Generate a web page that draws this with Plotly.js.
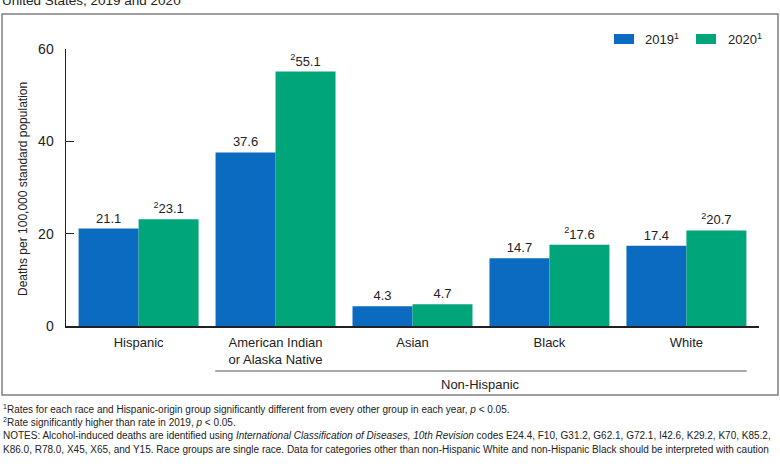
<!DOCTYPE html>
<html>
<head>
<meta charset="utf-8">
<script src="https://cdn.plot.ly/plotly-3.0.1.min.js"></script>
<style>html,body{margin:0;padding:0;background:#fff;}#chart{width:780px;height:470px;}</style>
</head>
<body>
<div id="chart"></div>
<script>
const categories = ["Hispanic", "American Indian<br>or Alaska Native", "Asian", "Black", "White"];
const values2019 = [21.1, 37.6, 4.3, 14.7, 17.4];
const values2020 = [23.1, 55.1, 4.7, 17.6, 20.7];
const sig2020 = [true, true, false, true, true];
const yTicks = [0, 20, 40, 60];
const seriesNames = ["2019", "2020"];
const colors = ["#0A6BC0", "#00A57A"];

const FONT = "Liberation Sans, Arial, sans-serif";

const t2019 = {
  type: "bar", x: categories, y: values2019, name: seriesNames[0],
  marker: {color: colors[0]},
  text: values2019.map(v => v.toFixed(1)),
  textposition: "outside", cliponaxis: false,
  textfont: {family: FONT, size: 13, color: "#222"},
  hoverinfo: "none"
};
const t2020 = {
  type: "bar", x: categories, y: values2020, name: seriesNames[1],
  marker: {color: colors[1]},
  text: values2020.map((v, i) => (sig2020[i] ? "<sup>2</sup>" : "") + v.toFixed(1)),
  textposition: "outside", cliponaxis: false,
  textfont: {family: FONT, size: 13, color: "#222"},
  hoverinfo: "none"
};

// pixel helpers (plot area: left 66, right 759, top 49, bottom 326)
const L = 66, R = 759, T = 49, B = 326;
const px = x => (x - L) / (R - L);
const py = y => (B - y) / (B - T);

const footnotes = [
  "<sup>1</sup>Rates for each race and Hispanic-origin group significantly different from every other group in each year, <i>p</i> < 0.05.",
  "<sup>2</sup>Rate significantly higher than rate in 2019, <i>p</i> < 0.05.",
  "NOTES: Alcohol-induced deaths are identified using <i>International Classification of Diseases, 10th Revision</i> codes E24.4, F10, G31.2, G62.1, G72.1, I42.6, K29.2, K70, K85.2,",
  "K86.0, R78.0, X45, X65, and Y15. Race groups are single race. Data for categories other than non-Hispanic White and non-Hispanic Black should be interpreted with caution"
];
const footY = [409, 422, 436, 449];

const annotations = [
  {xref: "paper", yref: "paper", x: px(0), y: py(10), xanchor: "left", yanchor: "bottom",
   text: "United States, 2019 and 2020", showarrow: false, font: {family: FONT, size: 13.5, color: "#222"}},
  {xref: "paper", yref: "paper", x: px(23), y: py(189), xanchor: "center", yanchor: "middle", textangle: -90,
   text: "Deaths per 100,000 standard population", showarrow: false, font: {family: FONT, size: 12, color: "#222"}},
  {xref: "x", yref: "paper", x: 2.5, y: py(384), xanchor: "center", yanchor: "middle",
   text: "Non-Hispanic", showarrow: false, font: {family: FONT, size: 13, color: "#222"}},
  {xref: "paper", yref: "paper", x: px(643), y: py(39), xanchor: "left", yanchor: "middle",
   text: seriesNames[0] + "<sup>1</sup>", showarrow: false, font: {family: FONT, size: 13, color: "#222"}},
  {xref: "paper", yref: "paper", x: px(726), y: py(39), xanchor: "left", yanchor: "middle",
   text: seriesNames[1] + "<sup>1</sup>", showarrow: false, font: {family: FONT, size: 13, color: "#222"}}
];
footnotes.forEach((t, i) => annotations.push({
  xref: "paper", yref: "paper", x: px(1), y: py(footY[i]), xanchor: "left", yanchor: "middle",
  text: t, showarrow: false, align: "left", font: {family: FONT, size: 10, color: "#222"}
}));

const shapes = [
  {type: "rect", xref: "paper", yref: "paper", x0: px(2), x1: px(778), y0: py(395), y1: py(14),
   line: {color: "#808080", width: 1.5}, fillcolor: "rgba(0,0,0,0)", layer: "below"},
  {type: "line", xref: "x", yref: "paper", x0: 0.56, x1: 4.44, y0: py(371), y1: py(371),
   line: {color: "#555", width: 1.2}},
  {type: "rect", xref: "paper", yref: "paper", x0: px(614), x1: px(634), y0: py(44), y1: py(34),
   line: {width: 0}, fillcolor: colors[0]},
  {type: "rect", xref: "paper", yref: "paper", x0: px(696), x1: px(716), y0: py(44), y1: py(34),
   line: {width: 0}, fillcolor: colors[1]}
];

const layout = {
  width: 780, height: 470,
  margin: {l: L, r: 780 - R, t: T, b: 470 - B, pad: 0},
  paper_bgcolor: "#fff", plot_bgcolor: "#fff",
  barmode: "group", bargap: 0.124, bargroupgap: 0,
  showlegend: false,
  font: {family: FONT, size: 13, color: "#222"},
  xaxis: {
    type: "category", range: [-0.53, 4.53], fixedrange: true,
    showline: true, linecolor: "#222", linewidth: 1.5,
    ticks: "", showgrid: false, zeroline: false,
    tickfont: {family: FONT, size: 13, color: "#222"},
    ticklabelstandoff: 4
  },
  yaxis: {
    range: [0, 60], tickvals: yTicks, ticktext: yTicks.map(String), fixedrange: true,
    showline: true, linecolor: "#222", linewidth: 1.5,
    ticks: "inside", ticklen: 8, tickwidth: 1.5, tickcolor: "#222",
    showgrid: false, zeroline: false,
    tickfont: {family: FONT, size: 14, color: "#222"},
    ticklabelstandoff: 8
  },
  annotations: annotations,
  shapes: shapes
};

Plotly.newPlot("chart", [t2019, t2020], layout, {staticPlot: true, displayModeBar: false});
</script>
</body>
</html>
